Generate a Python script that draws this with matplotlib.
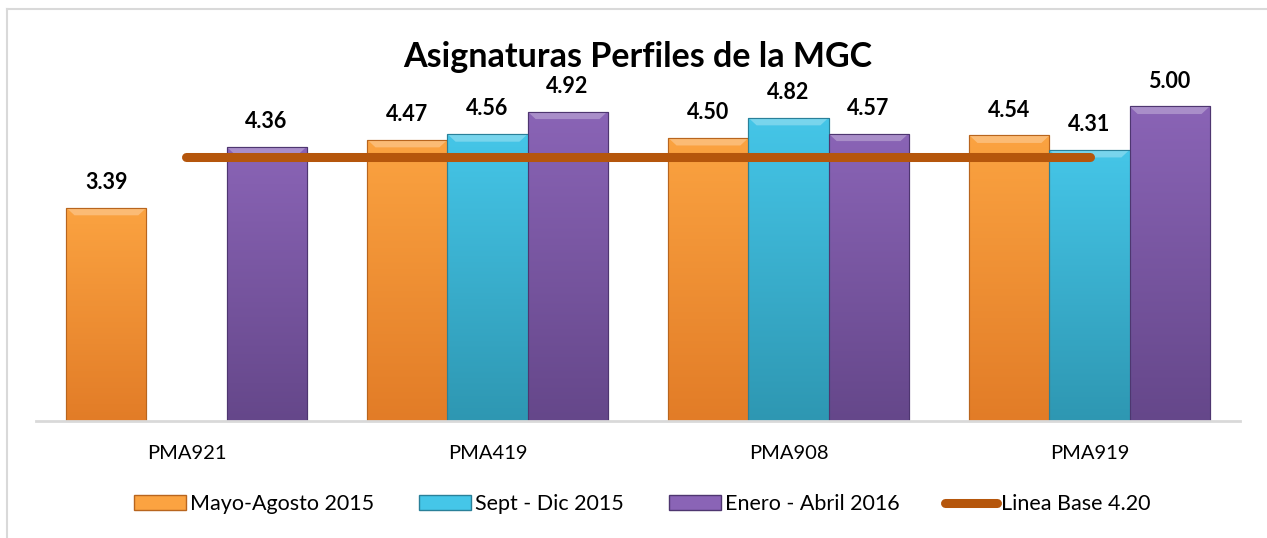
import numpy as np
import matplotlib.pyplot as plt
from matplotlib.patches import Patch, Polygon
from matplotlib.lines import Line2D
import matplotlib.colors as mcolors

plt.rcParams['font.family'] = ['Lato', 'DejaVu Sans']

# Data
categories = ['PMA921', 'PMA419', 'PMA908', 'PMA919']
mayo_ago_2015 = [3.39, 4.47, 4.50, 4.54]
sept_dic_2015 = [np.nan, 4.56, 4.82, 4.31]
ene_abr_2016 = [4.36, 4.92, 4.57, 5.00]
linea_base = [4.20, 4.20, 4.20, 4.20]

series_names = ['Mayo-Agosto 2015', 'Sept - Dic 2015', 'Enero - Abril 2016']
line_name = 'Linea Base 4.20'

# colours: (top, bottom) of gradient
grad = [('#FBA341', '#E27C27'), ('#45C6E8', '#2E97B2'), ('#8A64B6', '#65478A')]
edge = ['#B8651E', '#2A8099', '#4E3670']
line_color = '#B5560C'

fig = plt.figure(figsize=(12.67, 5.38), dpi=100)
ax = fig.add_axes([0.0284, 0.2175, 0.9503, 0.7015])

x = np.arange(len(categories))
w = 0.266
values = [mayo_ago_2015, sept_dic_2015, ene_abr_2016]

ax.set_xlim(-0.5, len(categories) - 0.5)
ax.set_ylim(0, 6)

gy = np.linspace(0, 1, 256).reshape(-1, 1)
for i, vals in enumerate(values):
    pos = x + (i - 1) * w
    bars = ax.bar(pos, vals, width=w, color=grad[i][0], edgecolor=edge[i],
                  linewidth=0.8, zorder=2)
    cmap = mcolors.LinearSegmentedColormap.from_list('g%d' % i, [grad[i][1], grad[i][0]])
    for b, v in zip(bars, vals):
        if np.isnan(v):
            continue
        x0, x1 = b.get_x(), b.get_x() + b.get_width()
        im = ax.imshow(gy, extent=[x0, x1, 0, v], origin='lower', cmap=cmap,
                       aspect='auto', zorder=2.1, interpolation='bilinear')
        im.set_clip_path(b)
        # bevel highlight on top
        dx, dy = 0.027, 0.12
        top = Polygon([[x0, v], [x1, v], [x1 - dx, v - dy], [x0 + dx, v - dy]],
                      closed=True, facecolor='white', alpha=0.28, edgecolor='none',
                      zorder=2.2)
        ax.add_patch(top)
        # bar outline on top of gradient
        ax.add_patch(plt.Rectangle((x0, 0), x1 - x0, v, fill=False,
                                   edgecolor=edge[i], linewidth=0.8, zorder=2.3))
        ax.annotate('%.2f' % v, (b.get_x() + b.get_width() / 2, v),
                    xytext=(0, 13.5), textcoords='offset points',
                    ha='center', va='baseline', fontsize=15.5,
                    fontweight='bold', color='black', zorder=5)

ax.plot(x, linea_base, color=line_color, linewidth=6.5,
        solid_capstyle='round', zorder=4)

ax.set_xlim(-0.5, len(categories) - 0.5)
ax.set_ylim(0, 6)

for s in ['top', 'right', 'left']:
    ax.spines[s].set_visible(False)
ax.spines['bottom'].set_color('#D9D9D9')
ax.spines['bottom'].set_linewidth(2)
ax.set_yticks([])
ax.set_xticks(x)
ax.set_xticklabels(categories, fontsize=14.5)
ax.tick_params(axis='x', length=0, pad=17)

fig.text(0.503, 1 - 57 / 538, 'Asignaturas Perfiles de la MGC', ha='center',
         va='center', fontsize=24.5, fontweight='bold')

handles = [Patch(facecolor=grad[i][0], edgecolor=edge[i]) for i in range(3)]
handles.append(Line2D([0], [0], color=line_color, linewidth=6.5,
                      solid_capstyle='round'))
fig.legend(handles, series_names + [line_name], loc='center',
           bbox_to_anchor=(0.507, 1 - 504 / 538), ncol=4, frameon=False,
           fontsize=15.5, handlelength=2.4, handleheight=0.65,
           handletextpad=0.2, columnspacing=2.1)

# chart border (left and top)
fig.add_artist(Line2D([7 / 1267, 7 / 1267], [0, 1 - 9 / 538], color='#D9D9D9', linewidth=1.5))
fig.add_artist(Line2D([7 / 1267, 1], [1 - 9 / 538, 1 - 9 / 538], color='#D9D9D9', linewidth=1.5))

fig.savefig('out.png', dpi=100)
